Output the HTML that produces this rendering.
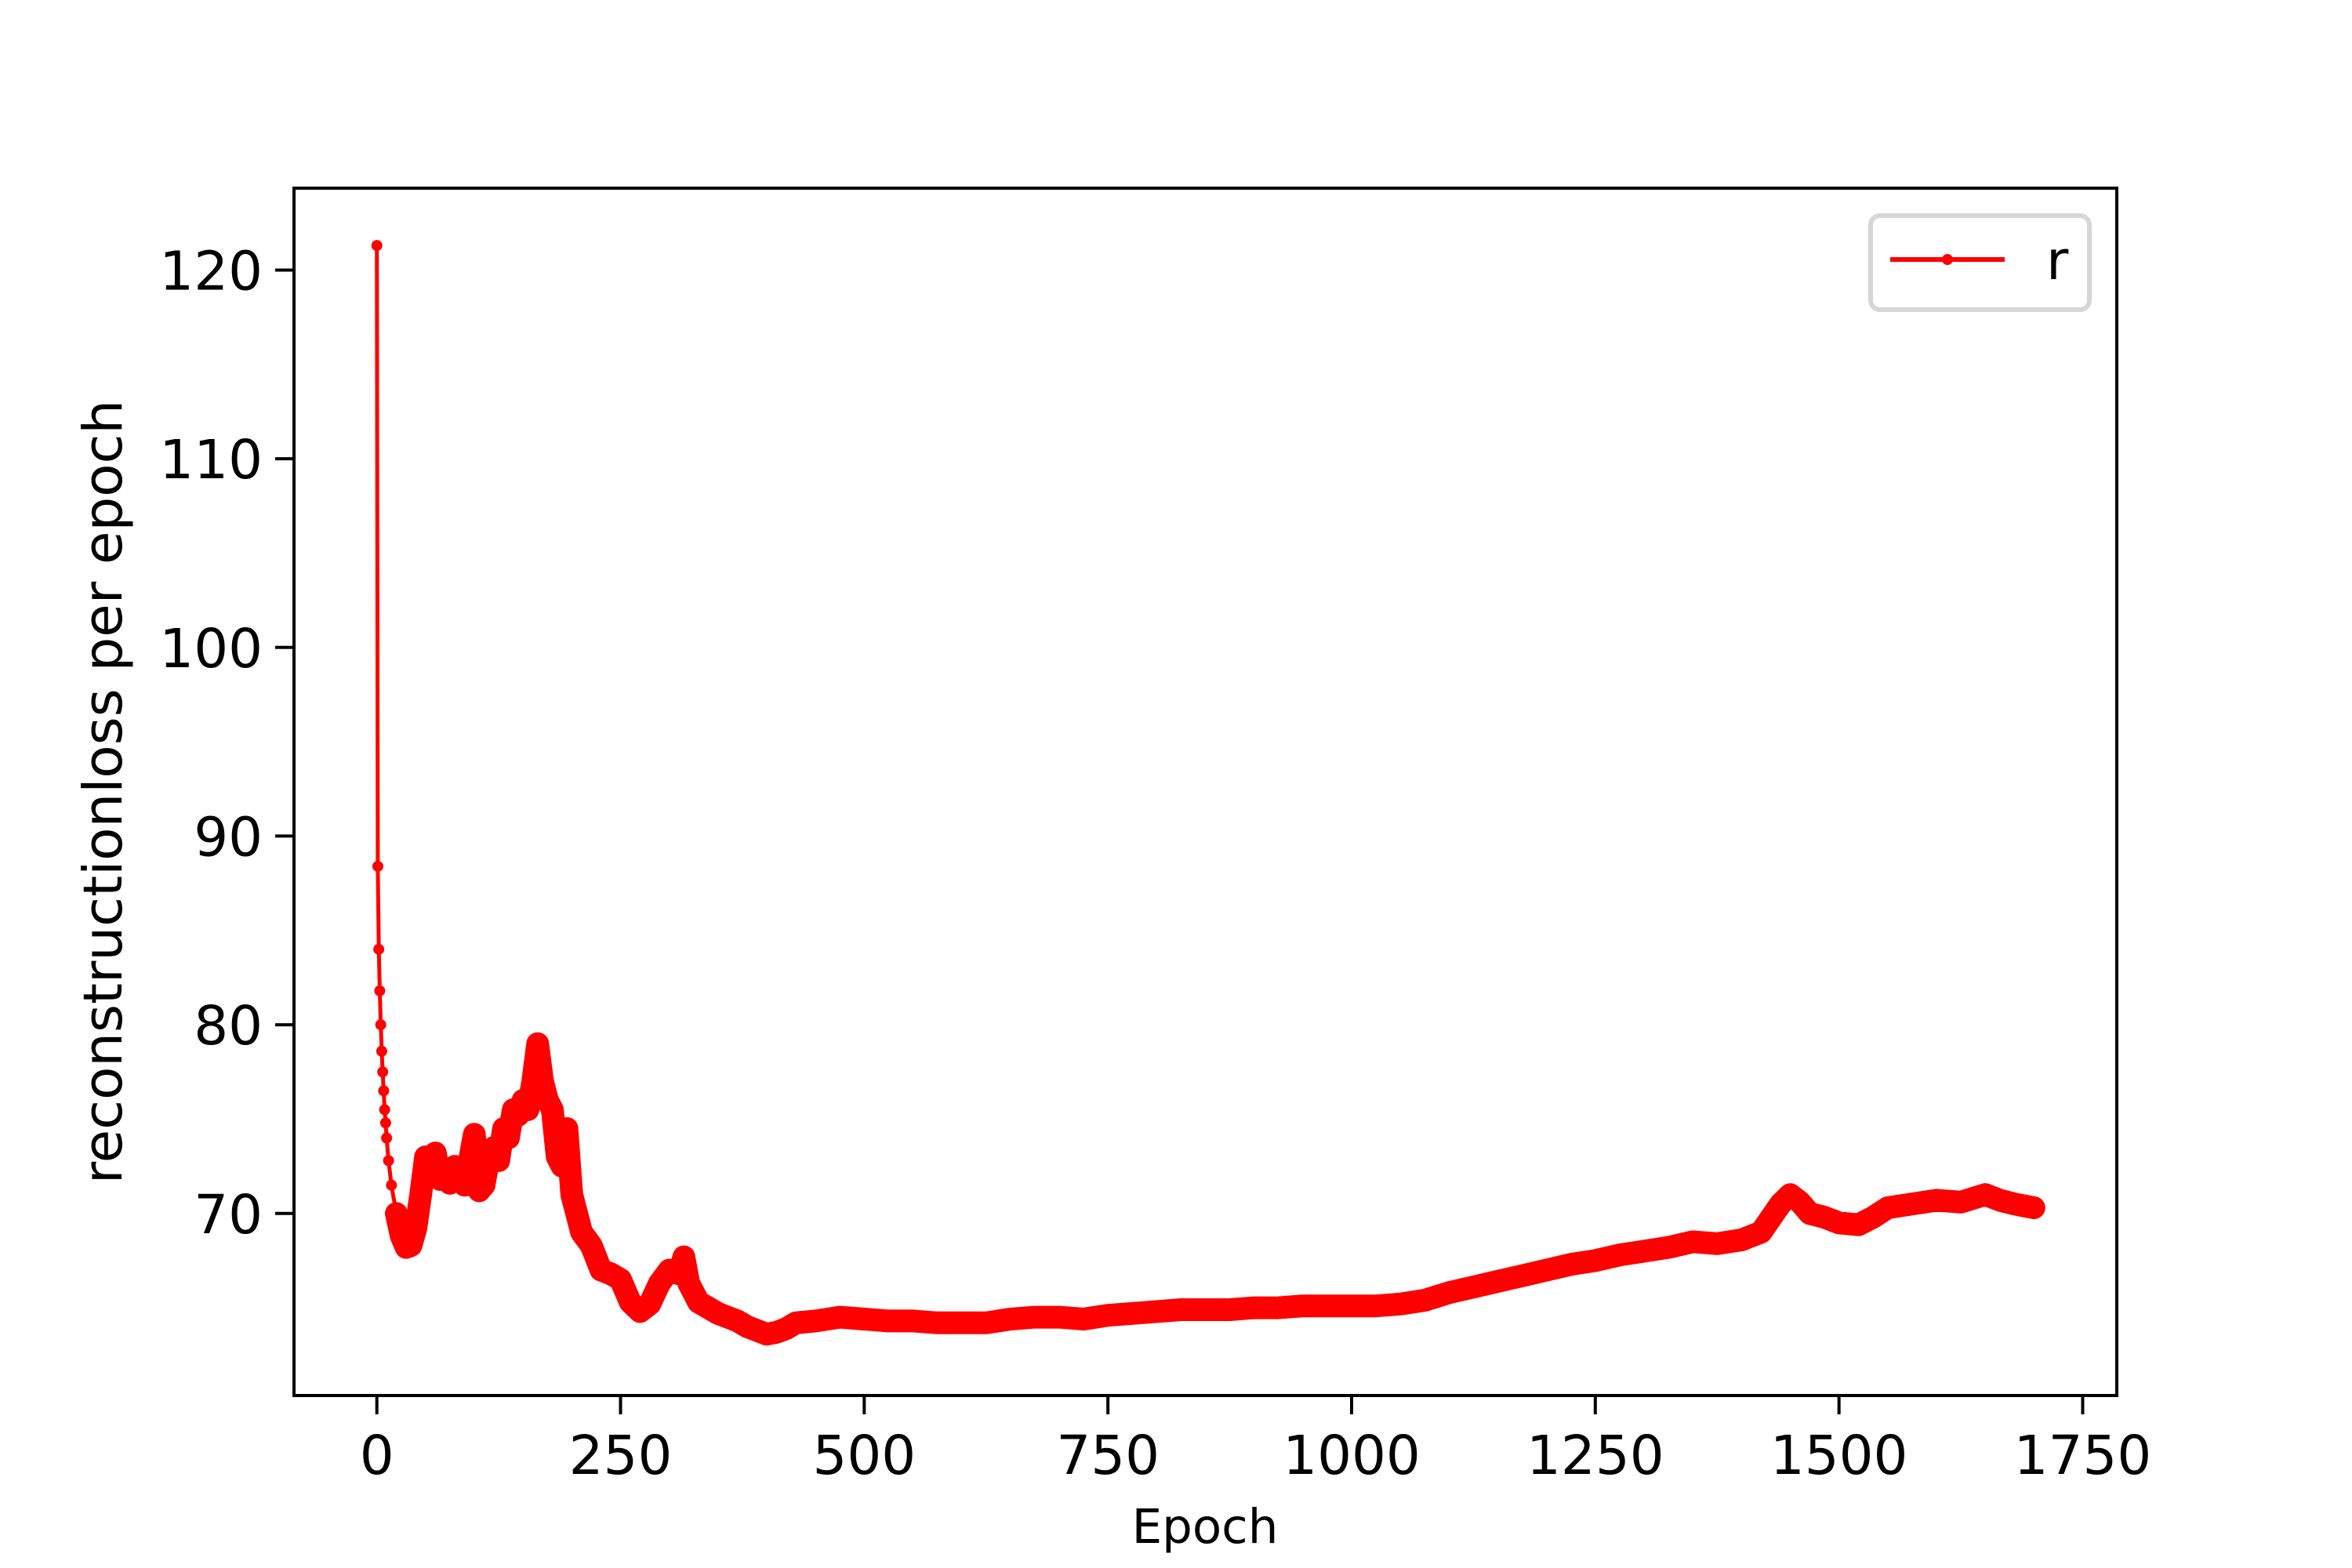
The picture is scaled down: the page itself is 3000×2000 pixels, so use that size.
<!DOCTYPE html>
<html><head><meta charset="utf-8"><style>
html,body{margin:0;padding:0;background:#fff}
svg{display:block}
text{font-family:"DejaVu Sans","Liberation Sans",sans-serif;fill:#000}
</style></head><body>
<svg id="chart" width="3000" height="2000" viewBox="0 0 3000 2000" xmlns="http://www.w3.org/2000/svg">
<rect x="0" y="0" width="3000" height="2000" fill="#fff"/>
<g id="plot"></g>
<g id="axes"></g>
<rect x="375" y="240" width="2325" height="1540" fill="none" stroke="#000" stroke-width="4"/>
<g>
<rect x="2386" y="275" width="279" height="120" rx="12" fill="#fff" stroke="#d6d6d6" stroke-width="6"/>
<line x1="2411" y1="331" x2="2557" y2="331" stroke="#ff0000" stroke-width="6"/>
<circle cx="2484" cy="331" r="7" fill="#ff0000"/>
<text x="2610" y="356" font-size="69">r</text>
</g>
<text x="1537" y="1968" font-size="61" text-anchor="middle">Epoch</text>
<text transform="translate(155,1010) rotate(-90)" font-size="69" text-anchor="middle">reconstructionloss per epoch</text>
</svg>
<script>
const epochs = [0,1,2,3,4,5,6,7,8,9,10,12,15,20,25,30,35,40,45,50,55,60,65,70,75,80,85,90,95,100,105,110,115,120,125,130,135,140,145,150,155,160,165,170,175,180,185,190,195,200,210,220,230,240,250,260,270,280,290,300,310,315,320,330,340,350,360,370,380,390,400,410,420,430,450,475,500,525,550,575,600,625,650,675,700,725,750,775,800,825,850,875,900,925,950,975,1000,1025,1050,1075,1100,1125,1150,1175,1200,1225,1250,1275,1300,1325,1350,1375,1400,1420,1440,1450,1460,1470,1485,1500,1520,1535,1550,1575,1600,1625,1650,1665,1680,1690,1700];
const losses = [121.3,88.4,84.0,81.8,80.0,78.6,77.5,76.5,75.5,74.8,74.0,72.8,71.5,70.0,68.8,68.2,68.3,69.2,71.0,73.0,72.4,73.2,71.8,72.0,71.6,72.5,72.0,71.5,72.8,74.2,71.2,71.5,73.0,73.5,72.8,74.5,74.0,75.5,75.2,76.0,75.5,77.0,79.0,77.0,76.0,75.5,73.0,72.5,74.5,71.0,69.0,68.3,67.0,66.8,66.5,65.3,64.8,65.2,66.3,67.0,66.8,67.7,66.3,65.3,65.0,64.7,64.5,64.3,64.0,63.8,63.6,63.7,63.9,64.2,64.3,64.5,64.4,64.3,64.3,64.2,64.2,64.2,64.4,64.5,64.5,64.4,64.6,64.7,64.8,64.9,64.9,64.9,65.0,65.0,65.1,65.1,65.1,65.1,65.2,65.4,65.8,66.1,66.4,66.7,67.0,67.3,67.5,67.8,68.0,68.2,68.5,68.4,68.6,69.0,70.5,71.0,70.6,70.0,69.8,69.5,69.4,69.8,70.3,70.5,70.7,70.6,71.0,70.7,70.5,70.4,70.3];
const xTicks = [0,250,500,750,1000,1250,1500,1750];
const yTicks = [70,80,90,100,110,120];

const X0=375, X1=2700, Y0=240, Y1=1780;
const xMin=-85, xMax=1785, yMin=60.35, yMax=124.34;
function xs(v){return X0+(v-xMin)/(xMax-xMin)*(X1-X0);}
function ys(v){return Y1-(v-yMin)/(yMax-yMin)*(Y1-Y0);}
const NS="http://www.w3.org/2000/svg";
const plot=document.getElementById('plot');
const axes=document.getElementById('axes');

let bandPts=[], pts=[];
for(let i=0;i<epochs.length;i++){
  const p=xs(epochs[i]).toFixed(1)+','+ys(losses[i]).toFixed(1);
  pts.push(p);
  if(epochs[i]>=20) bandPts.push(p);
}
const band=document.createElementNS(NS,'polyline');


band.setAttribute('points',bandPts.join(' '));
band.setAttribute('fill','none');band.setAttribute('stroke','#ff0000');
band.setAttribute('stroke-width','29');band.setAttribute('stroke-linejoin','round');band.setAttribute('stroke-linecap','round');
plot.appendChild(band);
const line=document.createElementNS(NS,'polyline');


line.setAttribute('points',pts.join(' '));
line.setAttribute('fill','none');line.setAttribute('stroke','#ff0000');
line.setAttribute('stroke-width','5');line.setAttribute('stroke-linejoin','round');
plot.appendChild(line);
for(let i=0;i<epochs.length;i++){
  const c=document.createElementNS(NS,'circle');
  
  
  c.setAttribute('cx',xs(epochs[i]));c.setAttribute('cy',ys(losses[i]));
  c.setAttribute('r','7');c.setAttribute('fill','#ff0000');
  plot.appendChild(c);
}
xTicks.forEach(t=>{
  const x=xs(t);
  const l=document.createElementNS(NS,'line');
  
  
  l.setAttribute('x1',x);l.setAttribute('x2',x);l.setAttribute('y1',Y1);l.setAttribute('y2',Y1+24);
  l.setAttribute('stroke','#000');l.setAttribute('stroke-width','4');
  axes.appendChild(l);
  const tx=document.createElementNS(NS,'text');
  
  
  tx.setAttribute('x',x);tx.setAttribute('y',1880);
  tx.setAttribute('font-size','69');tx.setAttribute('text-anchor','middle');
  tx.textContent=t;
  axes.appendChild(tx);
});
yTicks.forEach(t=>{
  const y=ys(t);
  const l=document.createElementNS(NS,'line');
  
  
  l.setAttribute('x1',X0-24);l.setAttribute('x2',X0);l.setAttribute('y1',y);l.setAttribute('y2',y);
  l.setAttribute('stroke','#000');l.setAttribute('stroke-width','4');
  axes.appendChild(l);
  const tx=document.createElementNS(NS,'text');
  
  
  tx.setAttribute('x',X0-40);tx.setAttribute('y',y+25);
  tx.setAttribute('font-size','69');tx.setAttribute('text-anchor','end');
  tx.textContent=t;
  axes.appendChild(tx);
});
</script>
</body></html>
